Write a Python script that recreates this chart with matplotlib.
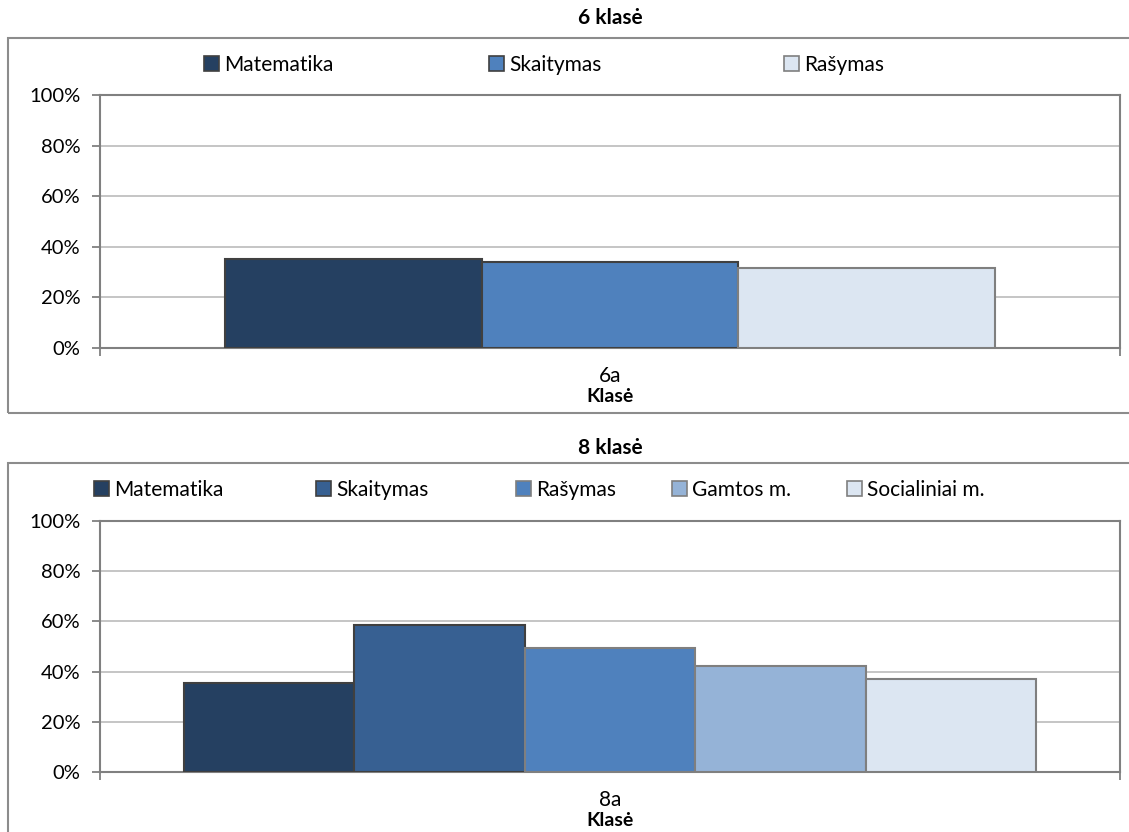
import matplotlib
matplotlib.use("Agg")
import matplotlib.pyplot as plt
from matplotlib.patches import Patch, Rectangle
from matplotlib.ticker import FuncFormatter

plt.rcParams['font.family'] = ['Lato', 'DejaVu Sans']

# data
subjects_6 = ['Matematika', 'Skaitymas', 'Rašymas']
values_6 = [35.0, 33.9, 31.8]
colors_6 = ['#254061', '#4F81BD', '#DCE6F2']
edges_6 = ['#404040', '#404040', '#7F7F7F']
class_6 = '6a'

subjects_8 = ['Matematika', 'Skaitymas', 'Rašymas', 'Gamtos m.', 'Socialiniai m.']
values_8 = [35.4, 58.6, 49.3, 42.3, 37.0]
colors_8 = ['#254061', '#376092', '#4F81BD', '#95B3D7', '#DCE6F2']
edges_8 = ['#404040', '#404040', '#7F7F7F', '#7F7F7F', '#7F7F7F']
class_8 = '8a'

W, H = 1129, 832
fig = plt.figure(figsize=(W / 100, H / 100), dpi=100)


def fx(px):
    return px / W


def fy(py):
    return 1 - py / H


def panel(top_px, bot_px, title, title_y, legend_y, legend_x, names, vals,
          cols, edges, cls, bar_w, box):
    # outer chart box (x0, x1, ytop, ybottom in pixels)
    x0, x1, yt, yb = box
    fig.patches.append(Rectangle((fx(x0), fy(yb)), fx(x1 - x0), (yb - yt) / H,
                                 transform=fig.transFigure, fill=False,
                                 edgecolor='#8c8c8c', linewidth=1.5))
    ax = fig.add_axes([fx(100), fy(bot_px), fx(1020), (bot_px - top_px) / H])
    n = len(vals)
    for i, (v, c, e) in enumerate(zip(vals, cols, edges)):
        ax.bar((i - (n - 1) / 2) * bar_w, v, width=bar_w, color=c,
               edgecolor=e, linewidth=1.5, zorder=3)
    ax.set_xlim(-0.5, 0.5)
    ax.set_ylim(0, 100)
    ax.set_yticks(range(0, 101, 20))
    ax.yaxis.set_major_formatter(FuncFormatter(lambda v, p: f'{int(v)}%'))
    ax.grid(axis='y', color='#c0c0c0', linewidth=1.3, zorder=0)
    ax.set_xticks([0])
    ax.set_xticklabels([cls])
    ax.tick_params(axis='x', length=0, pad=13, labelsize=15)
    ax.set_xticks([-0.5, 0.5], minor=True)
    ax.tick_params(axis='x', which='minor', length=6, width=1.3, color='#808080',
                   direction='out')
    ax.tick_params(axis='y', length=6, width=1.3, color='#808080', pad=8,
                   labelsize=14.5)
    for s in ax.spines.values():
        s.set_color('#808080')
        s.set_linewidth(1.5)
    fig.text(fx(610), fy(bot_px + 48), 'Klasė', ha='center', va='center',
             fontweight='bold', fontsize=14)
    fig.text(fx(610), fy(title_y), title, ha='center', va='center',
             fontweight='bold', fontsize=15)
    for name, c, e, x in zip(names, cols, edges, legend_x):
        h = Patch(facecolor=c, edgecolor=e, linewidth=1.2)
        fig.legend(handles=[h], labels=[name], loc='center left',
                   bbox_to_anchor=(fx(x), fy(legend_y)),
                   bbox_transform=fig.transFigure, frameon=False,
                   fontsize=15, handlelength=0.7, handleheight=0.7,
                   handletextpad=0.25, borderpad=0, borderaxespad=0)
    return ax


panel(95, 348, '6 klasė', 18, 65, [204, 489, 784], subjects_6, values_6,
      colors_6, edges_6, class_6, 0.2517, (8, 1140, 38, 413))
panel(521, 772, '8 klasė', 448, 490, [94, 316, 516, 672, 847], subjects_8,
      values_8, colors_8, edges_8, class_8, 0.1672, (8, 1140, 463, 845))

fig.savefig('out.png', dpi=100)
